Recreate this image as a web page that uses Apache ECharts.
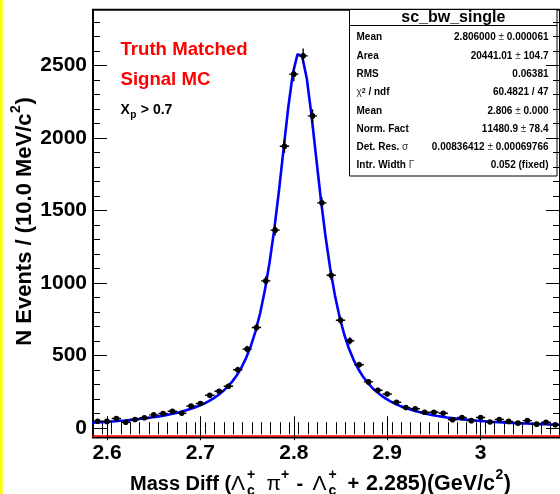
<!DOCTYPE html>
<html><head><meta charset="utf-8">
<script src="https://cdn.jsdelivr.net/npm/echarts@6/dist/echarts.min.js"></script>
<style>html,body{margin:0;padding:0;background:#fff;overflow:hidden}#c{width:560px;height:494px}</style>
</head><body><div id="c"></div>
<script>
// ---------------- data ----------------
const binCenters = [2.59,2.60,2.61,2.62,2.63,2.64,2.65,2.66,2.67,2.68,
  2.69,2.70,2.71,2.72,2.73,2.74,2.75,2.76,2.77,2.78,
  2.79,2.80,2.81,2.82,2.83,2.84,2.85,2.86,2.87,2.88,
  2.89,2.90,2.91,2.92,2.93,2.94,2.95,2.96,2.97,2.98,
  2.99,3.00,3.01,3.02,3.03,3.04,3.05,3.06,3.07,3.08];
const binCounts = [48,47,67,41,60,72,92,101,117,103,
  153,170,227,255,289,403,545,694,1015,1365,
  1943,2440,2566,2152,1553,1054,744,602,437,319,
  262,236,179,142,134,110,110,103,58,74,
  52,74,43,60,47,35,52,28,41,24];
const curveX = [2.584,2.589,2.594,2.599,2.604,2.609,2.614,2.619,2.624,2.629,
  2.634,2.639,2.644,2.649,2.654,2.659,2.664,2.669,2.674,2.679,
  2.684,2.689,2.694,2.699,2.704,2.709,2.714,2.719,2.724,2.729,
  2.734,2.739,2.744,2.749,2.754,2.759,2.764,2.769,2.774,2.779,
  2.784,2.789,2.794,2.799,2.804,2.806,2.809,2.814,2.819,2.824,
  2.829,2.834,2.839,2.844,2.849,2.854,2.859,2.864,2.869,2.874,
  2.879,2.884,2.889,2.894,2.899,2.904,2.909,2.914,2.919,2.924,
  2.929,2.934,2.939,2.944,2.949,2.954,2.959,2.964,2.969,2.974,
  2.979,2.984,2.989,2.994,2.999,3.004,3.009,3.014,3.019,3.024,
  3.029,3.034,3.039,3.044,3.049,3.054,3.059,3.064,3.069,3.074,
  3.079,3.084,3.089];
const curveY = [38,40,42,44,46,48,51,53,56,59,
  63,67,71,75,80,85,91,98,105,113,
  122,132,143,156,170,187,206,228,254,285,
  321,365,419,485,567,668,794,950,1140,1367,
  1631,1921,2208,2446,2578,2590,2562,2406,2153,1862,
  1576,1319,1099,916,767,646,549,471,408,356,
  314,278,249,223,202,183,167,153,141,130,
  120,111,103,96,90,84,79,74,70,66,
  62,59,56,53,50,48,45,43,41,40,
  38,36,35,33,32,31,29,28,27,26,
  25,24,23];
const xTickValues = [2.6,2.7,2.8,2.9,3.0];
const xTickLabels = ['2.6','2.7','2.8','2.9','3'];
const yTickValues = [0,500,1000,1500,2000,2500];
const yTickLabels = ['0','500','1000','1500','2000','2500'];
const statsTitle = 'sc_bw_single';
const statsNames = ['Mean','Area','RMS','χ² / ndf','Mean','Norm. Fact','Det. Res. σ','Intr. Width Γ'];
const statsValues = ['2.806000 ± 0.000061','20441.01 ± 104.7','0.06381','60.4821 / 47','2.806 ± 0.000','11480.9 ± 78.4','0.00836412 ± 0.00069766','0.052 (fixed)'];
const noteLines = ['Truth Matched','Signal MC'];
const X_MIN = 2.585, X_MAX = 3.085, Y_MIN = -64, Y_MAX = 2884;
const BIN_HALF = 0.005;

// minor tick positions
const xMinor = []; for (let i = 1; i < 50; i++) xMinor.push(+(X_MIN + i * 0.01).toFixed(3));
const yMinor = []; for (let v = 0; v <= 2800; v += 100) yMinor.push(v);

const FF = '"Liberation Sans", Arial, Helvetica, sans-serif';
const mctx = document.createElement('canvas').getContext('2d');
function tw(t, size, weight, fam) { mctx.font = weight + ' ' + size + 'px ' + (fam || FF); return mctx.measureText(t).width; }
function txt(x, y, t, size, weight, fam, fill) {
  return {type:'text', x:x, y:y, style:{text:t, fontSize:size, fontWeight:weight, fontFamily:fam || FF, fill:fill || '#000',
    align:'left', verticalAlign:'middle', textAlign:'left', textVerticalAlign:'middle'}};
}

// pieces: {t, w, s, f, x?} or {sup, sub, x?}
function buildParts(parts, size, small) {
  const ch = []; let cx = 0;
  parts.forEach(p => {
    if (p.x !== undefined) cx = p.x;
    if (p.t !== undefined) {
      const w = p.w || 'bold', s = p.s || size, f = p.f || FF;
      ch.push(txt(cx, 0, p.t, s, w, f));
      cx += tw(p.t, s, w, f);
    } else {
      let adv = 0;
      if (p.sup) { ch.push(txt(cx + 0.5, -size * 0.42, p.sup, small, 'bold')); adv = Math.max(adv, tw(p.sup, small, 'bold')); }
      if (p.sub) { ch.push(txt(cx + 0.5, size * 0.34, p.sub, small, 'bold')); adv = Math.max(adv, tw(p.sub, small, 'bold')); }
      cx += adv + 1;
    }
  });
  return {children: ch, width: cx};
}

const xTitle = buildParts([
  {t:'Mass Diff (', x:130}, {t:'Λ', w:'normal', s:21, x:231}, {sup:'+', sub:'c', x:246.5},
  {t:'π', w:'normal', s:21, x:266.5}, {sup:'+', x:280.5},
  {t:'-', x:296.5}, {t:'Λ', w:'normal', s:21, x:312.5}, {sup:'+', sub:'c', x:328},
  {t:'+', x:347.5}, {t:'2.285)(GeV/c', s:21.5, x:366}, {sup:'2'}, {t:')', s:21.5}
], 20, 14);
const yTitle = buildParts([{t:'N Events / (10.0 MeV/c'}, {sup:'2'}, {t:')'}], 22, 14);
yTitle.children.forEach(c => c.x -= yTitle.width / 2);

function richify(s) {
  let out = '';
  for (const ch of s) {
    if ('±χσΓ'.includes(ch)) out += '{g|' + ch + '}';
    else if (ch === '²') out += '{s|2}';
    else out += '{b|' + ch + '}';
  }
  return out;
}
const richStyles = {
  b:{fontSize:10, fontWeight:'bold', fontFamily:FF, fill:'#000'},
  g:{fontSize:10, fontWeight:'normal', fontFamily:FF, fill:'#333'},
  s:{fontSize:7, fontWeight:'bold', fontFamily:FF, fill:'#000', verticalAlign:'top'}
};

const BOX_L = 349.5, BOX_R = 557, BOX_T = 9.5, BOX_B = 176;
const rowY = [37.7, 55.9, 74.2, 92.5, 110.8, 129.1, 147.4, 165.7];
const statsEls = [
  {type:'rect', shape:{x:BOX_L, y:BOX_T, width:BOX_R-BOX_L, height:BOX_B-BOX_T}, style:{fill:'#fff', stroke:'#000', lineWidth:1}},
  {type:'line', shape:{x1:BOX_L, y1:25.5, x2:BOX_R, y2:25.5}, style:{stroke:'#000', lineWidth:1}},
  {type:'text', x:(BOX_L+BOX_R)/2, y:18, style:{text:statsTitle, fontSize:16, fontWeight:'bold', fontFamily:FF, fill:'#000', align:'center', verticalAlign:'middle', textAlign:'center', textVerticalAlign:'middle'}}
];
statsNames.forEach((n, i) => {
  statsEls.push({type:'text', x:356.5, y:rowY[i], style:{text:richify(n), rich:richStyles, align:'left', verticalAlign:'middle', textAlign:'left', textVerticalAlign:'middle'}});
  statsEls.push({type:'text', x:548.5, y:rowY[i], style:{text:richify(statsValues[i]), rich:richStyles, align:'right', verticalAlign:'middle', textAlign:'right', textVerticalAlign:'middle'}});
});

const noteEls = [
  txt(120.5, 50, noteLines[0], 18.6, 'bold', FF, '#ff0000'),
  txt(120.5, 80, noteLines[1], 18.6, 'bold', FF, '#ff0000'),
  {type:'group', x:120.5, y:110, children:[
    txt(0, 0, 'X', 14, 'bold'),
    txt(tw('X',14,'bold') + 0.5, 5.5, 'p', 10, 'bold'),
    txt(tw('X',14,'bold') + tw('p',10,'bold') + 1, 0, ' > 0.7', 14, 'bold')
  ]}
];

function xAx(pos, len, vals, labels, extra) {
  return Object.assign({
    type:'value', position:pos, min:X_MIN, max:X_MAX, splitLine:{show:false},
    axisLine:{show:false},
    axisTick:{show:true, inside:true, length:len, customValues:vals, lineStyle:{color:'#000', width:1}},
    axisLabel: labels ? {show:true, customValues:vals, margin:5, fontSize:21, fontWeight:'bold', fontFamily:FF, color:'#000',
      formatter: v => { const k = xTickValues.findIndex(t => Math.abs(t - v) < 1e-6); return k >= 0 ? xTickLabels[k] : ''; }} : {show:false}
  }, extra || {});
}
function yAx(pos, len, vals, labels) {
  return {
    type:'value', position:pos, min:Y_MIN, max:Y_MAX, splitLine:{show:false},
    axisLine:{show:false},
    axisTick:{show:true, inside:true, length:len, customValues:vals, lineStyle:{color:'#000', width:1}},
    axisLabel: labels ? {show:true, customValues:vals, margin:6, fontSize:21, fontWeight:'bold', fontFamily:FF, color:'#000',
      formatter: v => { const k = yTickValues.indexOf(v); return k >= 0 ? yTickLabels[k] : ''; }} : {show:false}
  };
}

const chart = echarts.init(document.getElementById('c'), null, {renderer:'canvas'});
chart.setOption({
  animation:false,
  backgroundColor:'#fff',
  grid:{left:93, right:-1, top:9.7, bottom:56.5, show:true, borderColor:'#000', borderWidth:2, backgroundColor:'transparent'},
  xAxis:[
    xAx('bottom', 12, xTickValues, true),
    xAx('bottom', 6, xMinor, false),
    xAx('top', 12, xTickValues, false),
    xAx('top', 6, xMinor, false),
    xAx('bottom', 0, [], false, {offset:-1.5, axisTick:{show:false}, axisLine:{show:true, lineStyle:{color:'#ff0000', width:1.5}}})
  ],
  yAxis:[
    yAx('left', 14, yTickValues, true),
    yAx('left', 7, yMinor, false),
    yAx('right', 14, yTickValues, false),
    yAx('right', 7, yMinor, false)
  ],
  series:[
    {type:'line', xAxisIndex:0, yAxisIndex:0, data:curveX.map((x,i)=>[x, curveY[i]]), showSymbol:false, symbol:'none',
     lineStyle:{color:'#0000ff', width:2.6}, z:2, clip:true, silent:true},
    {type:'custom', xAxisIndex:0, yAxisIndex:0, z:3, clip:true,
     data:binCenters.map((x,i)=>[x, binCounts[i]]),
     renderItem:(params, api) => {
       const x = api.value(0), y = api.value(1);
       const e = Math.sqrt(y);
       const c = api.coord([x, y]);
       const l = api.coord([x - BIN_HALF, y]);
       const r = api.coord([x + BIN_HALF, y]);
       const t = api.coord([x, y + e]);
       const b = api.coord([x, y - e]);
       return {type:'group', children:[
         {type:'line', shape:{x1:l[0], y1:c[1], x2:r[0], y2:c[1]}, style:{stroke:'#000', lineWidth:1.4}},
         {type:'line', shape:{x1:c[0], y1:t[1], x2:c[0], y2:b[1]}, style:{stroke:'#000', lineWidth:1.4}},
         {type:'circle', shape:{cx:c[0], cy:c[1], r:2.8}, style:{fill:'#000'}}
       ]};
     }}
  ],
  graphic:[
    {type:'rect', shape:{x:0, y:0, width:2.7, height:494}, style:{fill:'#ffff00'}, z:100},
    {type:'group', z:100, children:statsEls},
    {type:'group', z:100, children:noteEls},
    {type:'group', z:100, x:0, y:484, children:xTitle.children},
    {type:'group', z:100, x:25, y:221.5, rotation:Math.PI/2, children:yTitle.children}
  ]
});
</script>
</body></html>
